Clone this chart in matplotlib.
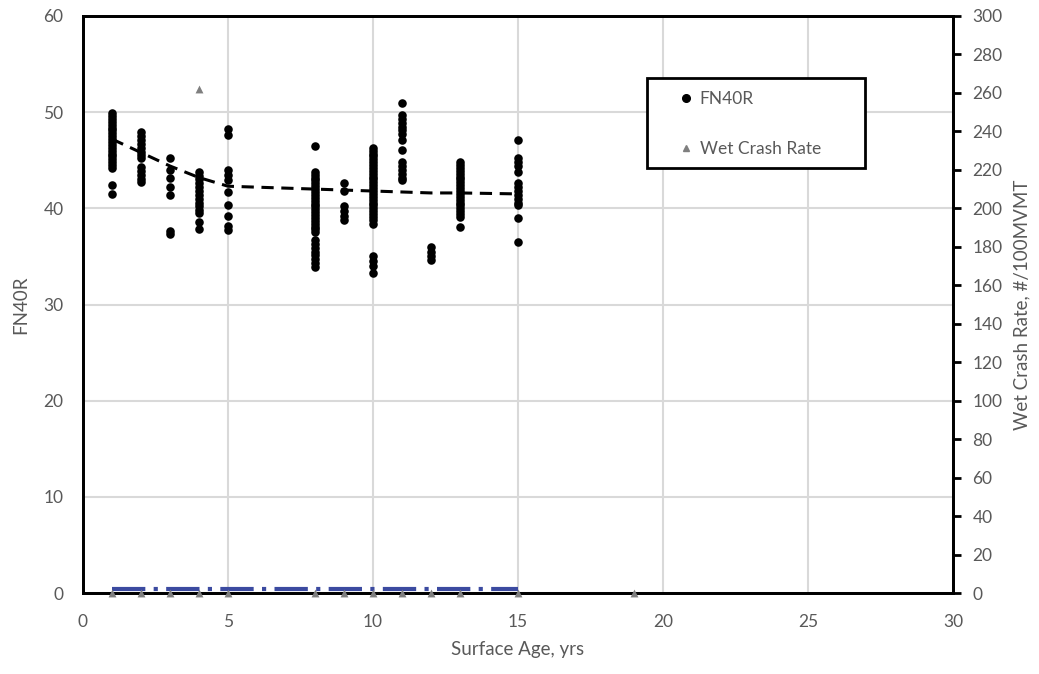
import matplotlib
matplotlib.use("Agg")
import matplotlib.pyplot as plt
from matplotlib.patches import Rectangle
from matplotlib.lines import Line2D

plt.rcParams['font.family'] = ['Lato', 'DejaVu Sans']

# FN40R por edad de superficie (yrs)
ages = [1, 2, 3, 4, 5, 8, 9, 10, 11, 12, 13, 15]
fn_1 = [49.9, 49.6, 49.3, 49.0, 48.7, 48.4, 48.1, 47.8, 47.5, 47.2, 46.9, 46.6,
        46.3, 46.0, 45.7, 45.4, 45.1, 44.8, 44.5, 44.2, 42.4, 41.5]
fn_2 = [47.9, 47.5, 47.1, 46.7, 46.3, 45.9, 45.5, 45.2, 44.3, 43.9, 43.5, 43.1, 42.7]
fn_3 = [45.2, 44.0, 43.2, 42.2, 41.4, 37.6, 37.3]
fn_4 = [43.8, 43.4, 43.0, 42.6, 42.2, 41.8, 41.4, 41.0, 40.6, 40.2, 39.8, 39.5, 38.6, 37.8]
fn_5 = [48.3, 47.6, 44.0, 43.5, 42.9, 41.7, 40.3, 39.2, 38.2, 37.7]
fn_8 = [46.5, 43.8, 43.5, 43.2, 42.9, 42.6, 42.3, 42.0, 41.7, 41.4, 41.1, 40.8, 40.5,
        40.2, 39.9, 39.6, 39.3, 39.0, 38.7, 38.4, 38.1, 37.8, 37.5, 36.7, 36.3, 35.9,
        35.5, 35.1, 34.7, 34.3, 33.9]
fn_9 = [42.6, 41.8, 40.2, 39.7, 39.2, 38.8]
fn_10 = [46.3, 46.0, 45.7, 45.4, 45.1, 44.8, 44.5, 44.2, 43.9, 43.6, 43.3, 43.0, 42.7,
         42.4, 42.1, 41.8, 41.5, 41.2, 40.9, 40.6, 40.3, 40.0, 39.7, 39.4, 39.1, 38.8,
         38.4, 35.0, 34.5, 34.0, 33.3]
fn_11 = [51.0, 49.7, 49.3, 48.9, 48.5, 48.1, 47.7, 47.1, 46.1, 44.8, 44.4, 44.0, 43.6,
         43.2, 42.9]
fn_12 = [36.0, 35.5, 35.0, 34.6]
fn_13 = [44.8, 44.5, 44.2, 43.9, 43.6, 43.3, 43.0, 42.7, 42.4, 42.1, 41.8, 41.5, 41.2,
         40.9, 40.6, 40.3, 40.0, 39.7, 39.4, 39.1, 38.1]
fn_15 = [47.1, 45.2, 44.8, 44.4, 43.8, 42.6, 42.2, 41.8, 41.4, 41.0, 40.6, 40.3, 39.0, 36.5]
fn_cols = [fn_1, fn_2, fn_3, fn_4, fn_5, fn_8, fn_9, fn_10, fn_11, fn_12, fn_13, fn_15]

# tendencia FN40R
trend_fn = [47.2, 45.8, 44.4, 43.2, 42.3, 42.0, 41.9, 41.8, 41.7, 41.6, 41.6, 41.5]

# Wet crash rate (#/100MVMT)
wcr_ages = [1, 2, 3, 4, 4, 5, 8, 9, 10, 11, 12, 13, 15, 19]
wcr_vals = [0, 0, 0, 0, 262, 0, 0, 0, 0, 0, 0, 0, 0, 0]
trend_wcr = [2, 2, 2, 2, 2, 2, 2, 2, 2, 2, 2, 2]

gris = '#595959'

fig = plt.figure(figsize=(10.39, 6.74), dpi=100)
ax = fig.add_axes([83/1039, 1-593/674, 870/1039, 577/674])
ax2 = ax.twinx()

xs, ys = [], []
for a, col in zip(ages, fn_cols):
    xs += [a]*len(col)
    ys += col
ax.scatter(xs, ys, s=38, color='black', zorder=3, linewidths=0)
ax.plot(ages, trend_fn, color='black', ls=(0, (4, 2.5)), lw=2.2, zorder=4)

ax2.plot(ages, trend_wcr, color='#3b4aa0', ls=(0, (8, 2, 1, 2)), lw=3, zorder=3)
ax2.scatter(wcr_ages, wcr_vals, marker='^', s=32, color='#7f7f7f', zorder=4,
            linewidths=0, clip_on=False)

ax.set_xlim(0, 30)
ax.set_ylim(0, 60)
ax2.set_ylim(0, 300)
ax.set_xticks(range(0, 31, 5))
ax.set_yticks(range(0, 61, 10))
ax2.set_yticks(range(0, 301, 20))

ax.grid(True, color='#d9d9d9', lw=1.5)
ax.set_axisbelow(True)

for s in ['top', 'bottom', 'left', 'right']:
    ax.spines[s].set_color('black')
    ax.spines[s].set_linewidth(2)
    ax2.spines[s].set_color('black')
    ax2.spines[s].set_linewidth(2)

ax.tick_params(axis='x', length=0, pad=15, labelsize=12.5, labelcolor=gris)
ax.tick_params(axis='y', length=0, pad=14, labelsize=12.5, labelcolor=gris)
ax2.tick_params(axis='y', length=6, width=2, color='black', direction='out',
                pad=8, labelsize=12.5, labelcolor=gris)

ax.set_xlabel('Surface Age, yrs', fontsize=13.5, color=gris, labelpad=8)
ax.set_ylabel('FN40R', fontsize=13.5, color=gris, labelpad=10)
ax2.set_ylabel('Wet Crash Rate, #/100MVMT', fontsize=13.5, color=gris, labelpad=8)

# leyenda con caja dibujada aparte
fig.patches.append(Rectangle((647/1039, 1-168/674), 218/1039, 90/674,
                             transform=fig.transFigure, fill=True, facecolor='white',
                             edgecolor='black', lw=2, zorder=10))
handles = [Line2D([], [], ls='', marker='o', color='black', markersize=5.5),
           Line2D([], [], ls='', marker='^', color='#7f7f7f', markersize=5)]
leg = fig.legend(handles, ['FN40R', 'Wet Crash Rate'], loc='upper left',
                 bbox_to_anchor=(677/1039, 1-91/674), frameon=False, fontsize=12.5,
                 labelcolor=gris, handlelength=1.0, handletextpad=0.3,
                 labelspacing=1.95, borderpad=0, borderaxespad=0)
leg.set_zorder(20)

fig.savefig('out.png', dpi=100)
